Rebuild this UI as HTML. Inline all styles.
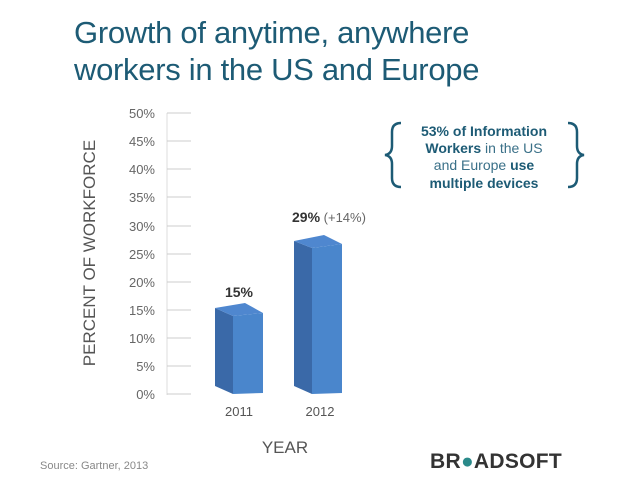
<!DOCTYPE html>
<html><head><style>
body{margin:0;width:640px;height:495px;background:#fff;font-family:"Liberation Sans",sans-serif;position:relative;overflow:hidden}
.t{position:absolute;left:74px;top:14px;font-size:31px;line-height:37px;color:#1d5b75;letter-spacing:-0.3px}
</style></head><body>
<div class="t">Growth of anytime, anywhere<br>workers in the US and Europe</div>
<svg width="640" height="495" style="position:absolute;left:0;top:0" font-family="Liberation Sans, sans-serif">
<line x1="167" y1="113" x2="167" y2="395" stroke="#ddd" stroke-width="1"/>
<g stroke="#ccc" stroke-width="1">
<line x1="167" y1="113" x2="191" y2="113"/><line x1="167" y1="141" x2="191" y2="141"/>
<line x1="167" y1="169" x2="191" y2="169"/><line x1="167" y1="197" x2="191" y2="197"/>
<line x1="167" y1="226" x2="191" y2="226"/><line x1="167" y1="254" x2="191" y2="254"/>
<line x1="167" y1="282" x2="191" y2="282"/><line x1="167" y1="310" x2="191" y2="310"/>
<line x1="167" y1="338" x2="191" y2="338"/><line x1="167" y1="366" x2="191" y2="366"/>
<line x1="167" y1="394" x2="191" y2="394"/>
</g>
<g font-size="13" fill="#666" text-anchor="end">
<text x="155" y="118">50%</text><text x="155" y="146">45%</text><text x="155" y="174">40%</text>
<text x="155" y="202">35%</text><text x="155" y="231">30%</text><text x="155" y="259">25%</text>
<text x="155" y="287">20%</text><text x="155" y="315">15%</text><text x="155" y="343">10%</text>
<text x="155" y="371">5%</text><text x="155" y="399">0%</text>
</g>
<text transform="translate(95,253) rotate(-90)" font-size="17" fill="#555" text-anchor="middle">PERCENT OF WORKFORCE</text>
<polygon points="215,308 233,316 233,394 215,386" fill="#3a69a8"/>
<polygon points="233,316 263,313 263,393 233,394" fill="#4a86cc"/>
<polygon points="215,308 245,303 263,313 233,316" fill="#4f87cf"/>
<polygon points="294,241 312,248 312,394 294,386" fill="#3a69a8"/>
<polygon points="312,248 342,244 342,393 312,394" fill="#4a86cc"/>
<polygon points="294,241 324,235 342,244 312,248" fill="#4f87cf"/>
<text x="239" y="297" font-size="14" font-weight="bold" fill="#333" text-anchor="middle">15%</text>
<text x="292" y="222" font-size="14" fill="#333"><tspan font-weight="bold">29%</tspan><tspan fill="#666" font-size="13"> (+14%)</tspan></text>
<text x="239" y="416" font-size="13" fill="#555" text-anchor="middle">2011</text>
<text x="320" y="416" font-size="13" fill="#555" text-anchor="middle">2012</text>
<text x="285" y="453" font-size="17" fill="#555" text-anchor="middle">YEAR</text>
<text x="40" y="469" font-size="11" fill="#888">Source: Gartner, 2013</text>
<g fill="none" stroke="#1d5b75" stroke-width="2.5">
<path d="M401,123 Q392,123 392,132 L392,146 Q392,154 385,155 Q392,156 392,164 L392,178 Q392,187 401,187"/>
<path d="M568,123 Q577,123 577,132 L577,146 Q577,154 584,155 Q577,156 577,164 L577,178 Q577,187 568,187"/>
</g>
<g font-size="14" fill="#1d5b75" text-anchor="middle">
<text x="484" y="136" font-weight="bold">53% of Information</text>
<text x="484" y="153"><tspan font-weight="bold">Workers</tspan><tspan fill="#3a7088"> in the US</tspan></text>
<text x="484" y="170"><tspan fill="#3a7088">and Europe </tspan><tspan font-weight="bold">use</tspan></text>
<text x="484" y="188" font-weight="bold">multiple devices</text>
</g>
<text x="430" y="468" font-size="21" font-weight="bold" fill="#333" letter-spacing="0.3">BR<tspan fill="#2a8a8a">●</tspan>ADSOFT</text>
</svg>
</body></html>
